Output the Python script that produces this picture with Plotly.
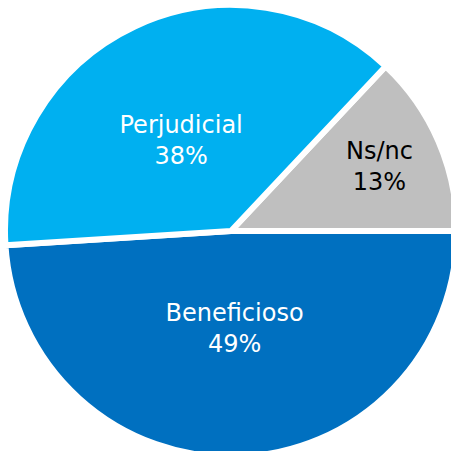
import plotly.graph_objects as go

labels = ['Ns/nc', 'Beneficioso', 'Perjudicial']
values = [13, 49, 38]

colors = ['#BFBFBF', '#0070C0', '#00B0F0']
text_colors = ['#000000', '#FFFFFF', '#FFFFFF']
# an extra (non-breaking space) line nudges the big slices' labels toward where the original sits
templates = ['%{label}<br>%{value}%', '%{label}<br>%{value}%<br>\u00a0', '\u00a0<br>%{label}<br>%{value}%']

W = 457
off = 5 / W

fig = go.Figure()
fig.add_trace(go.Pie(
    labels=labels, values=values,
    sort=False, direction='clockwise', rotation=43.2,
    marker=dict(colors=colors, line=dict(color='white', width=6)),
    texttemplate=templates,
    textposition='inside', insidetextorientation='horizontal',
    textfont=dict(family='DejaVu Sans', size=24, color=text_colors),
    hoverinfo='label+percent',
    showlegend=False,
    domain=dict(x=[off, 1], y=[0, 1 - off])
))
fig.update_layout(
    width=W, height=W,
    margin=dict(l=0, r=0, t=0, b=0),
    paper_bgcolor='white', plot_bgcolor='white'
)
fig.write_html("out.html", config={'displayModeBar': False},
               post_script="document.body.style.margin='0';document.body.style.overflow='hidden';")
